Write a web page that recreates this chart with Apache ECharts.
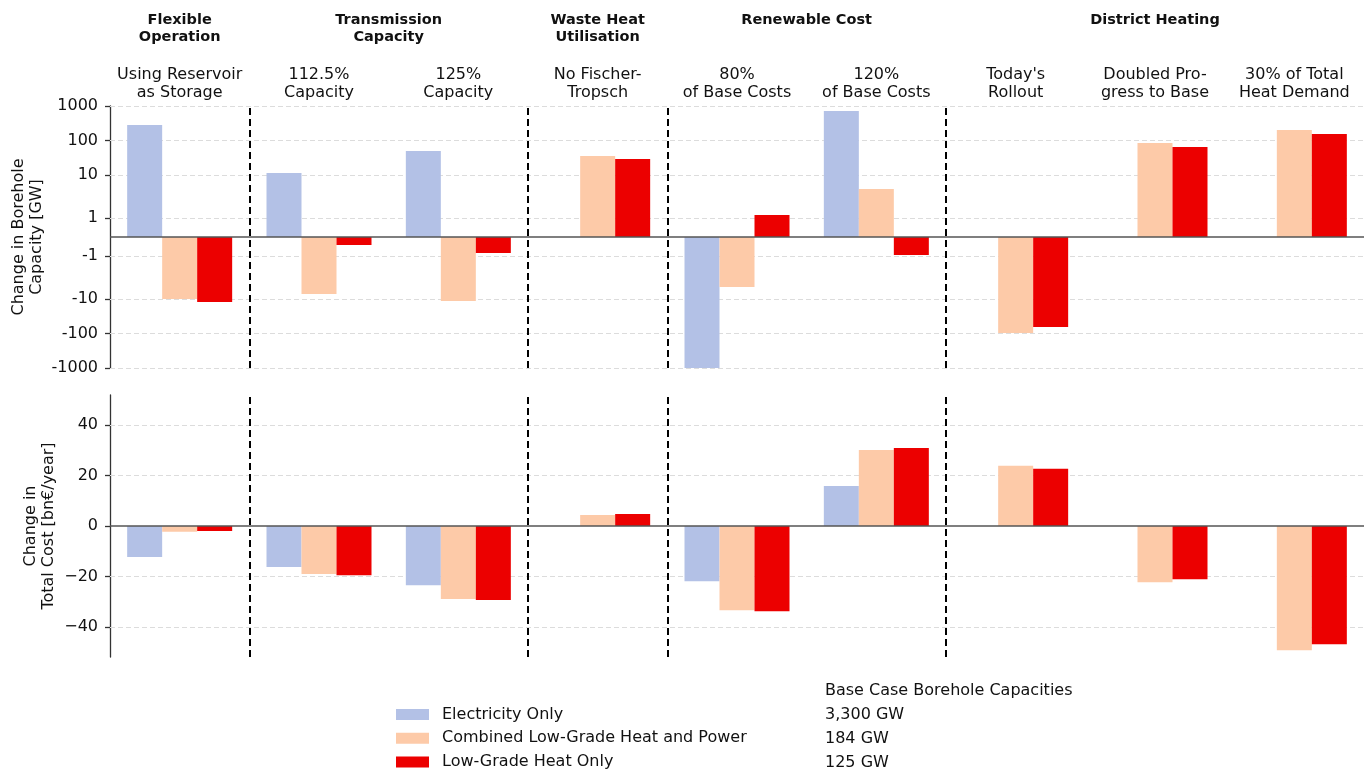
<!DOCTYPE html>
<html><head><meta charset="utf-8">
<script src="https://cdn.jsdelivr.net/npm/echarts@6/dist/echarts.min.js"></script>
<style>html,body{margin:0;padding:0;background:#fff}#c{width:1368px;height:769px}</style>
</head><body><div id="c"></div>
<script>
// ---------------- data ----------------
const categories = ["Using Reservoir\nas Storage","112.5%\nCapacity","125%\nCapacity","No Fischer-\nTropsch","80%\nof Base Costs","120%\nof Base Costs","Today's\nRollout","Doubled Pro-\ngress to Base","30% of Total\nHeat Demand"];
const groupHeaders = ["Flexible\nOperation","Transmission\nCapacity","Waste Heat\nUtilisation","Renewable Cost","District Heating"];
const groupFirst = [0,1,3,4,6];
const groupLast  = [0,2,3,5,8];
const seriesNames = ["Electricity Only","Combined Low-Grade Heat and Power","Low-Grade Heat Only"];
const baseCaseTitle = "Base Case Borehole Capacities";
const baseCaseValues = ["3,300 GW","184 GW","125 GW"];
const capAxisName = "Change in Borehole\nCapacity [GW]";
const costAxisName = "Change in\nTotal Cost [bn\u20ac/year]";
// change in borehole capacity [GW]
const capElec = [280, 11.3, 49, null, -1000, 716, null, null, null];
const capComb = [-9.85, -7.05, -11.3, 35.2, -4.4, 3.86, -96, 84, 200];
const capHeat = [-12.0, -0.42, -0.84, 28.8, 1.15, -0.94, -64, 64, 153];
// change in total cost [bn EUR / year]
const costElec = [-12.3, -16.3, -23.5, null, -21.9, 15.9, null, null, null];
const costComb = [-2.3, -19.1, -29.0, 4.4, -33.4, 30.2, 23.9, -22.3, -49.3];
const costHeat = [-2.0, -19.5, -29.4, 4.8, -33.8, 31.0, 22.7, -21.1, -46.9];
// ticks
const capTicks = [-1000,-100,-10,-1,1,10,100,1000];
const capTickLabels = ["-1000","-100","-10","-1","1","10","100","1000"];
const costTicks = [-40,-20,0,20,40];
const costTickLabels = ["\u221240","\u221220","0","20","40"];
const capLimit = 1000;
const costLimit = 52;

// ---------------- symlog (linthresh 2, linscale 1) ----------------
const LT = 2, LS = 1/(1-1/10);
function symlog(v){ if(v===null) return null; const a=Math.abs(v); if(a<=LT) return v*LS; return Math.sign(v)*LT*(LS+Math.log10(a/LT)); }

const colors = ["#b3c1e6","#fdcaa8","#ec0000"];
const FONT = "DejaVu Sans";
const FS = 16;
const capTickPos = capTicks.map(symlog);

const chart = echarts.init(document.getElementById('c'), null, {renderer:'canvas'});

const boundaries = groupLast.slice(0,-1).map(i => i + 0.5);

function gridLineSeries(xi, yi, vals){
  return {type:'line', xAxisIndex:xi, yAxisIndex:yi, data:[], z:0, silent:true,
    markLine:{silent:true, z:1, symbol:['none','none'], label:{show:false}, animation:false,
      lineStyle:{color:'#dcdcdc', type:[5,3], width:1},
      data: vals.map(v=>({yAxis:v}))}};
}
function sepSeries(xi, yi){
  return {type:'line', xAxisIndex:xi, yAxisIndex:yi, data:[], z:5, silent:true,
    markLine:{silent:true, z:6, symbol:['none','none'], label:{show:false}, animation:false,
      data: boundaries.map(b=>({xAxis:b, lineStyle:{color:'#000', type:[7,4], width:2}}))
        .concat([{yAxis:0, lineStyle:{color:'#555', type:'solid', width:1.5}}])}};
}
function barSeries(name, data, xi, yi, color, tf){
  return {type:'bar', name:name, xAxisIndex:xi, yAxisIndex:yi, z:3,
    data: data.map(v => v===null ? null : (tf ? tf(v) : v)),
    barWidth:35, barGap:'0%', itemStyle:{color:color}, animation:false};
}

const legends = seriesNames.map((n,i)=>({
  data:[n], orient:'horizontal', left:396, top:706.5+23.7*i, padding:0, itemWidth:33, itemHeight:11,
  icon:'rect', selectedMode:false,
  textStyle:{fontFamily:FONT, fontSize:FS, color:'#111', padding:[0,0,0,8]}
}));

const option = {
  backgroundColor:'#fff',
  animation:false,
  textStyle:{fontFamily:FONT},
  grid:[
    {left:110, right:4, top:106, height:262, outerBoundsMode:'none'},
    {left:110, right:4, top:395, height:262, outerBoundsMode:'none'}
  ],
  xAxis:[
    {type:'category', gridIndex:0, data:categories, position:'top',
      axisLine:{show:false}, axisTick:{show:false},
      axisLabel:{interval:0, margin:4, fontFamily:FONT, fontSize:FS, color:'#111', lineHeight:18}},
    {type:'category', gridIndex:1, data:categories, show:false},
    {type:'value', gridIndex:0, min:-0.5, max:categories.length-0.5, show:false},
    {type:'value', gridIndex:1, min:-0.5, max:categories.length-0.5, show:false}
  ],
  yAxis:[
    {type:'value', gridIndex:0, min:symlog(-capLimit), max:symlog(capLimit), position:'left',
      axisLine:{show:true, onZero:false, lineStyle:{color:'#333', width:1.3}},
      splitLine:{show:false},
      axisTick:{show:true, length:5, customValues:capTickPos, lineStyle:{color:'#333', width:1.3}},
      axisLabel:{customValues:capTickPos, margin:12, fontFamily:FONT, fontSize:FS, color:'#111',
        formatter:function(v){ const i = capTickPos.findIndex(p=>Math.abs(p-v)<1e-6); return i>=0?capTickLabels[i]:''; }}},
    {type:'value', gridIndex:1, min:-costLimit, max:costLimit, position:'left',
      axisLine:{show:true, onZero:false, lineStyle:{color:'#333', width:1.3}},
      splitLine:{show:false},
      axisTick:{show:true, length:5, customValues:costTicks, lineStyle:{color:'#333', width:1.3}},
      axisLabel:{customValues:costTicks, margin:12, fontFamily:FONT, fontSize:FS, color:'#111',
        formatter:function(v){ const i = costTicks.findIndex(p=>Math.abs(p-v)<1e-6); return i>=0?costTickLabels[i]:''; }}}
  ],
  legend:legends,
  series:[
    gridLineSeries(2,0,capTickPos),
    gridLineSeries(3,1,costTicks.filter(v=>v!==0)),
    barSeries(seriesNames[0], capElec, 0,0, colors[0], symlog),
    barSeries(seriesNames[1], capComb, 0,0, colors[1], symlog),
    barSeries(seriesNames[2], capHeat, 0,0, colors[2], symlog),
    barSeries(seriesNames[0], costElec, 1,1, colors[0]),
    barSeries(seriesNames[1], costComb, 1,1, colors[1]),
    barSeries(seriesNames[2], costHeat, 1,1, colors[2]),
    sepSeries(2,0),
    sepSeries(3,1)
  ]
};
chart.setOption(option);

// headers, axis titles and base-case column positioned through the chart's scales
const headerEls = groupHeaders.map((t,k)=>{
  const x0 = chart.convertToPixel({xAxisIndex:2}, groupFirst[k]);
  const x1 = chart.convertToPixel({xAxisIndex:2}, groupLast[k]);
  return {type:'text', x:(x0+x1)/2, y:12.25, style:{text:t, fontFamily:FONT, fontWeight:'bold', fontSize:14.5, lineHeight:16.5,
    fill:'#111', align:'center', verticalAlign:'top'}};
});
const capMidY = chart.convertToPixel({yAxisIndex:0}, 0);
const costMidY = chart.convertToPixel({yAxisIndex:1}, 0);
const axisNameEls = [
  {type:'text', x:28, y:capMidY, rotation:Math.PI/2, style:{text:capAxisName, fontFamily:FONT, fontSize:FS, lineHeight:17.5, fill:'#111', align:'center', verticalAlign:'middle'}},
  {type:'text', x:40, y:costMidY, rotation:Math.PI/2, style:{text:costAxisName, fontFamily:FONT, fontSize:FS, lineHeight:17.5, fill:'#111', align:'center', verticalAlign:'middle'}}
];
const baseEls = [{type:'text', x:825, y:691, style:{text:baseCaseTitle, fontFamily:FONT, fontSize:FS, fill:'#111', align:'left', verticalAlign:'middle'}}]
  .concat(baseCaseValues.map((t,i)=>({type:'text', x:825, y:715+23.7*i, style:{text:t, fontFamily:FONT, fontSize:FS, fill:'#111', align:'left', verticalAlign:'middle'}})));
chart.setOption({graphic:headerEls.concat(axisNameEls, baseEls)});
</script>
</body></html>
